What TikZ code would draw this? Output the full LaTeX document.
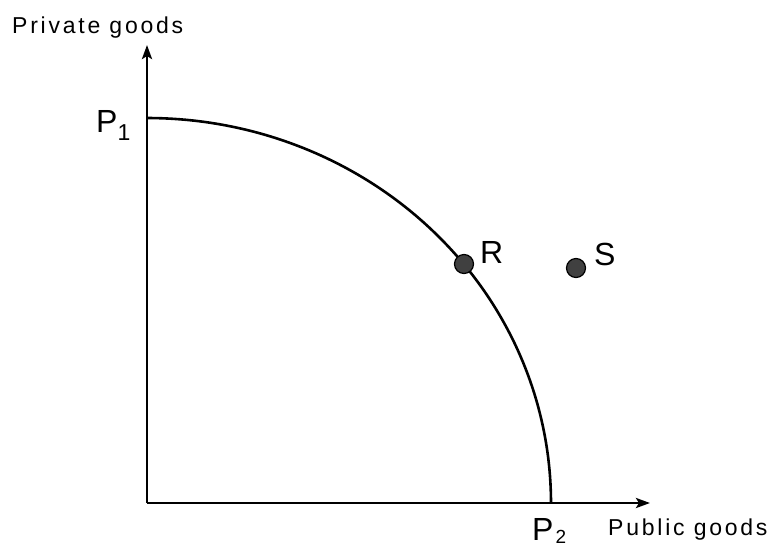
\documentclass[tikz,border=0pt]{standalone}
\usepackage{fontspec}
\setmainfont{Liberation Sans}
\newfontfamily\spacedfont[LetterSpace=12]{Liberation Sans}
\usetikzlibrary{arrows.meta}
\tikzset{
  axis/.style={line width=2.8pt, -{Stealth[length=14pt,width=10pt,inset=3pt]}},
  ppf/.style={line width=2.6pt},
  dotnode/.style={circle, minimum size=19pt, inner sep=0pt, fill=gray!50!black, draw=black, line width=1.2pt},
  biglbl/.style={inner sep=0pt, font=\fontsize{32}{32}\selectfont},
  axlbl/.style={inner sep=0pt, font=\spacedfont\fontsize{23}{23}\selectfont}
}
\begin{document}
\begin{tikzpicture}[x=1pt,y=-1pt]
\useasboundingbox (0,0) rectangle (781,549);
\coordinate (O) at (147,503);
\coordinate (ytop) at (147,45);
\coordinate (xend) at (650,503);
\draw[axis] (O) -- (ytop);
\draw[axis] (O) -- (xend);
\draw[ppf] plot[domain=0:90, samples=80, smooth] ({147+404*sin(\x)}, {503-385*cos(\x)});
\node[dotnode] (R) at (464,264) {};
\node[dotnode] (S) at (576,268) {};
\node[biglbl, anchor=base west] (Rlab) at (480,263) {R};
\node[biglbl, anchor=base west] (Slab) at (594,265) {S};
\node[biglbl, anchor=base west] (P1) at (96,132) {P\raisebox{-8pt}{\fontsize{23}{23}\selectfont 1}};
\node[biglbl, anchor=base west] (P2) at (532,540) {P\kern2pt\raisebox{-3pt}{\fontsize{19}{19}\selectfont 2}};
\node[axlbl, anchor=base west] (ylab) at (12,33) {Private goods};
\node[axlbl, anchor=base west] (xlab) at (608,535) {Public goods};
\end{tikzpicture}
\end{document}
